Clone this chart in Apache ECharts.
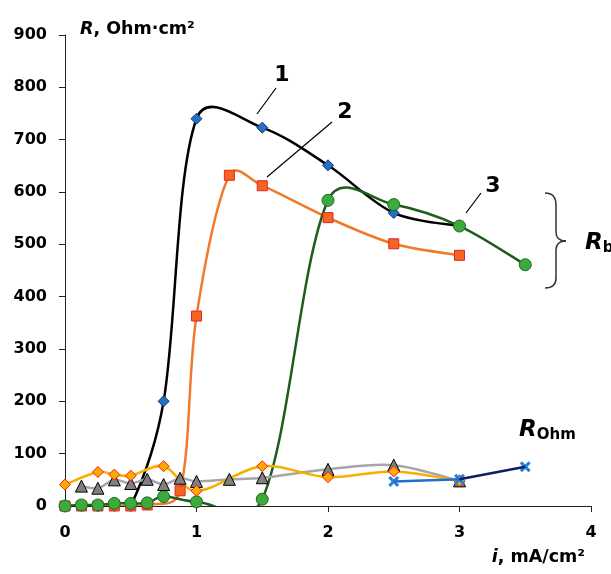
<!DOCTYPE html>
<html>
<head>
<meta charset="utf-8">
<script src="https://cdn.jsdelivr.net/npm/echarts@6/dist/echarts.min.js"></script>
<style>
html,body{margin:0;padding:0;background:#fff;}
#chart{width:611px;height:574px;}
</style>
</head>
<body>
<div id="chart"></div>
<script>
// Data (x: current density i, mA/cm2; y: R, Ohm·cm2)
var xTicks = [0, 1, 2, 3, 4];
var yTicks = [0, 100, 200, 300, 400, 500, 600, 700, 800, 900];

var rb1 = [[0,0],[0.125,0],[0.25,0],[0.375,0],[0.5,0],[0.75,200],[1.0,740],[1.5,723],[2.0,651],[2.5,560],[3.0,535]];
var rb2 = [[0,0],[0.125,0],[0.25,0],[0.375,0],[0.5,0],[0.625,2],[0.875,29],[1.0,363],[1.25,632],[1.5,612],[2.0,551],[2.5,501],[3.0,479]];
var rb3 = [[0,0],[0.125,2],[0.25,2],[0.375,5],[0.5,5],[0.625,6],[0.75,18],[1.0,8],[1.5,13],[2.0,584],[2.5,576],[3.0,535],[3.5,461]];
var rohmGray = [[0.125,38],[0.25,34],[0.375,50],[0.5,43],[0.625,51],[0.75,41],[0.875,53],[1.0,47],[1.25,51],[1.5,54],[2.0,70],[2.5,78],[3.0,48]];
var rohmGold = [[0,41],[0.25,65],[0.375,60],[0.5,58],[0.75,76],[1.0,29],[1.5,76],[2.0,55],[2.5,66],[3.0,48]];
var rohmBlue = [[2.5,47],[3.0,51]];
var rohmNavy = [[3.0,51],[3.5,75]];

var FONT = '"DejaVu Sans", "Liberation Sans", Arial, sans-serif';
var xSym = 'path://M0,2 L2,0 L5,3 L8,0 L10,2 L7,5 L10,8 L8,10 L5,7 L2,10 L0,8 L3,5 Z';

var chart = echarts.init(document.getElementById('chart'), null, {renderer: 'canvas'});

// Smoothed line (spreadsheet-style Bezier) drawn through the axis scales via api.coord
function curveSeries(data, color, width) {
  return {
    type: 'custom',
    data: data,
    encode: {x: 0, y: 1},
    clip: true,
    silent: true,
    animation: false,
    renderItem: function (params, api) {
      if (params.dataIndex !== 0) return null;
      var p = data.map(function (d) { return api.coord(d); });
      var n = p.length;
      function dist(a, b) { return Math.sqrt((a[0]-b[0])*(a[0]-b[0]) + (a[1]-b[1])*(a[1]-b[1])); }
      // tangent control offsets at each point
      var fwd = [], bwd = [];
      for (var i = 0; i < n; i++) {
        var pr = p[i > 0 ? i - 1 : i], nx = p[i < n - 1 ? i + 1 : i];
        var vx = (nx[0] - pr[0]) / 6, vy = (nx[1] - pr[1]) / 6;
        var wf = 1, wb = 1;
        if (i > 0 && i < n - 1) {
          var lp = dist(p[i], pr), ln = dist(p[i], nx), s = lp + ln;
          if (s > 0) { wf = Math.sqrt(2 * ln / s); wb = Math.sqrt(2 * lp / s); }
        }
        fwd.push([vx * wf, vy * wf]);
        bwd.push([vx * wb, vy * wb]);
      }
      var path = 'M' + p[0][0] + ',' + p[0][1];
      for (var k = 0; k < n - 1; k++) {
        var c1x = p[k][0] + fwd[k][0], c1y = p[k][1] + fwd[k][1];
        var c2x = p[k+1][0] - bwd[k+1][0], c2y = p[k+1][1] - bwd[k+1][1];
        path += ' C' + c1x + ',' + c1y + ' ' + c2x + ',' + c2y + ' ' + p[k+1][0] + ',' + p[k+1][1];
      }
      var cs = params.coordSys;
      return {
        type: 'path',
        shape: {pathData: path},
        style: {stroke: color, lineWidth: width, fill: 'none'},
        clipPath: {type: 'rect', shape: {x: cs.x, y: cs.y, width: cs.width, height: cs.height}}
      };
    }
  };
}

function markerSeries(data, sym, size, fill, border, borderW) {
  return {
    type: 'scatter',
    data: data,
    symbol: sym,
    symbolSize: size,
    itemStyle: {color: fill, borderColor: border, borderWidth: borderW, opacity: 1},
    emphasis: {disabled: true},
    silent: true,
    animation: false
  };
}

function straightSeries(data, color) {
  return {
    type: 'line',
    data: data,
    symbol: 'none',
    lineStyle: {color: color, width: 2.5},
    emphasis: {disabled: true},
    silent: true,
    animation: false
  };
}

var braceStyle = {stroke: '#333', lineWidth: 1.5, fill: null};

var option = {
  animation: false,
  grid: {left: 65, right: 20, top: 35, bottom: 68, containLabel: false},
  xAxis: {
    type: 'value', min: xTicks[0], max: xTicks[xTicks.length-1], interval: 1,
    axisLine: {show: true, lineStyle: {color: '#222', width: 1}},
    axisTick: {show: true, inside: false, length: 6, lineStyle: {color: '#222'}},
    axisLabel: {fontFamily: FONT, fontWeight: 'bold', fontSize: 16, color: '#000', margin: 19},
    splitLine: {show: false}
  },
  yAxis: {
    type: 'value', min: yTicks[0], max: yTicks[yTicks.length-1], interval: 100,
    axisLine: {show: true, lineStyle: {color: '#222', width: 1}},
    axisTick: {show: true, inside: false, length: 6, lineStyle: {color: '#222'}},
    axisLabel: {fontFamily: FONT, fontWeight: 'bold', fontSize: 16, color: '#000', margin: 18},
    splitLine: {show: false}
  },
  series: [
    curveSeries(rb1, '#000000', 2.5),
    markerSeries(rb1, 'diamond', 11, '#1f72c6', '#1a2f6b', 1),
    curveSeries(rb2, '#f07a2a', 2.5),
    markerSeries(rb2, 'rect', 10, '#f2661f', '#e8202a', 1),
    curveSeries(rb3, '#1f5c1f', 2.5),
    markerSeries(rb3, 'circle', 12, '#3caa3c', '#1f6a1f', 1),
    curveSeries(rohmGray, '#a6a6a6', 2.5),
    markerSeries(rohmGray, 'triangle', 12, '#808080', '#000000', 1),
    curveSeries(rohmGold, '#f5b000', 2.5),
    markerSeries(rohmGold, 'diamond', 11, '#fbaa00', '#ff1a1a', 1),
    straightSeries(rohmBlue, '#1f6ed0'),
    straightSeries(rohmNavy, '#0d1f60'),
    markerSeries(rohmBlue, xSym, 11, '#2a80d8', '#2a80d8', 0),
    markerSeries([rohmNavy[1]], xSym, 11, '#2a80d8', '#2a80d8', 0)
  ],
  graphic: [
    {type: 'text', x: 80, y: 29, style: {
      text: '{ri|R}{b|, Ohm·cm²}', verticalAlign: 'middle',
      rich: {ri: {fontFamily: FONT, fontWeight: 'bold', fontStyle: 'italic', fontSize: 17.5, fill: '#000'},
             b: {fontFamily: FONT, fontWeight: 'bold', fontSize: 17.5, fill: '#000'}}
    }},
    {type: 'text', x: 585, y: 557, style: {
      text: '{ri|i}{b|, mA/cm²}', align: 'right', verticalAlign: 'middle',
      rich: {ri: {fontFamily: FONT, fontWeight: 'bold', fontStyle: 'italic', fontSize: 17.5, fill: '#000'},
             b: {fontFamily: FONT, fontWeight: 'bold', fontSize: 17.5, fill: '#000'}}
    }},
    {type: 'text', x: 282, y: 75, style: {text: '1', font: 'bold 22px ' + FONT, fill: '#000', align: 'center', verticalAlign: 'middle'}},
    {type: 'text', x: 345, y: 112, style: {text: '2', font: 'bold 22px ' + FONT, fill: '#000', align: 'center', verticalAlign: 'middle'}},
    {type: 'text', x: 493, y: 186, style: {text: '3', font: 'bold 22px ' + FONT, fill: '#000', align: 'center', verticalAlign: 'middle'}},
    {type: 'line', shape: {x1: 276, y1: 88, x2: 257, y2: 114}, style: {stroke: '#000', lineWidth: 1.2}},
    {type: 'line', shape: {x1: 332, y1: 122, x2: 267, y2: 177}, style: {stroke: '#000', lineWidth: 1.2}},
    {type: 'line', shape: {x1: 481, y1: 193, x2: 466, y2: 213}, style: {stroke: '#000', lineWidth: 1.2}},
    {type: 'bezierCurve', shape: {x1: 545, y1: 193, cpx1: 552, cpy1: 193, cpx2: 556, cpy2: 197, x2: 556, y2: 205}, style: braceStyle},
    {type: 'line', shape: {x1: 556, y1: 205, x2: 556, y2: 232}, style: braceStyle},
    {type: 'bezierCurve', shape: {x1: 556, y1: 232, cpx1: 556, cpy1: 238, cpx2: 560, cpy2: 241, x2: 566, y2: 241}, style: braceStyle},
    {type: 'bezierCurve', shape: {x1: 566, y1: 241, cpx1: 560, cpy1: 241, cpx2: 556, cpy2: 244, x2: 556, y2: 250}, style: braceStyle},
    {type: 'line', shape: {x1: 556, y1: 250, x2: 556, y2: 278}, style: braceStyle},
    {type: 'bezierCurve', shape: {x1: 556, y1: 278, cpx1: 556, cpy1: 285, cpx2: 552, cpy2: 288, x2: 545, y2: 288}, style: braceStyle},
    {type: 'text', x: 585, y: 243, style: {
      text: '{r|R}{s|b}', verticalAlign: 'middle',
      rich: {r: {fontFamily: FONT, fontWeight: 'bold', fontStyle: 'italic', fontSize: 23, fill: '#000'},
             s: {fontFamily: FONT, fontWeight: 'bold', fontSize: 15, fill: '#000', padding: [10,0,0,0]}}
    }},
    {type: 'text', x: 519, y: 430, style: {
      text: '{r|R}{s|Ohm}', verticalAlign: 'middle',
      rich: {r: {fontFamily: FONT, fontWeight: 'bold', fontStyle: 'italic', fontSize: 23, fill: '#000'},
             s: {fontFamily: FONT, fontWeight: 'bold', fontSize: 15, fill: '#000', padding: [10,0,0,0]}}
    }}
  ]
};
chart.setOption(option);
</script>
</body>
</html>
